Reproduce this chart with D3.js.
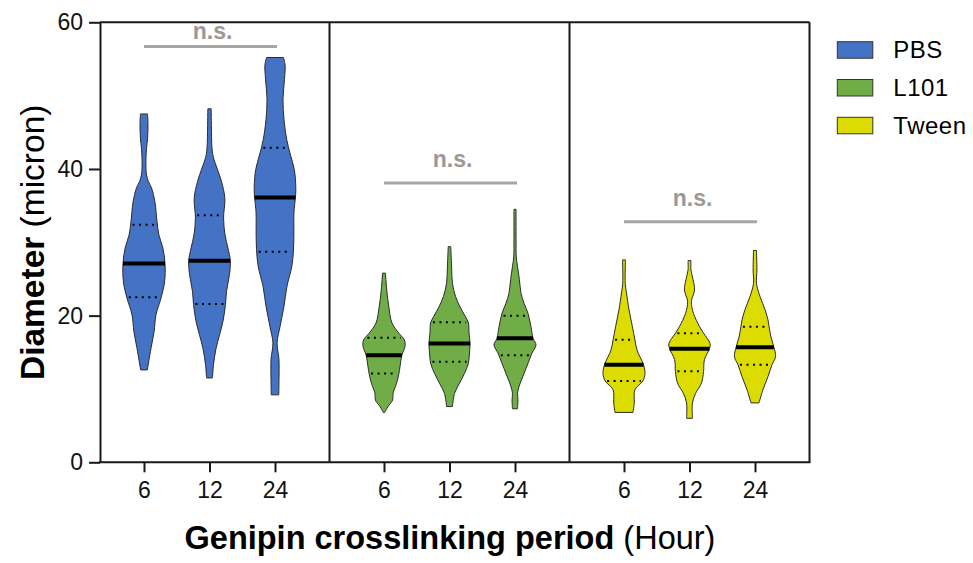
<!DOCTYPE html>
<html>
<head>
<meta charset="utf-8">
<script src="https://cdn.jsdelivr.net/npm/d3@7"></script>
<style>
  body { margin: 0; background: #fff; }
  svg { display: block; font-family: 'Liberation Sans', Arial, sans-serif; }
</style>
</head>
<body>
<svg id="chart" width="973" height="563"></svg>
<script>
// groups (panels) and time points on the x axis
const groups = ['PBS', 'L101', 'Tween'];
const times = ['6', '12', '24'];
const groupColors = ['#4472C4', '#70AD47', '#DCDC00'];
const yTicks = [0, 20, 40, 60];

// violin outlines: [diameter, relative density] from top to bottom
const pbsProfiles = [
  [[47.5,0.17],[46.0,0.19],[44.2,0.17],[42.8,0.12],[41.0,0.09],[39.2,0.12],[38.3,0.21],[37.4,0.36],[35.5,0.52],[32.8,0.62],[31.0,0.71],[29.2,0.9],[27.1,1.0],[24.6,0.98],[22.4,0.81],[20.1,0.57],[17.8,0.48],[15.5,0.33],[12.6,0.16]],
  [[48.2,0.08],[45.9,0.09],[42.8,0.12],[41.5,0.19],[40.1,0.36],[38.3,0.57],[36.0,0.73],[33.3,0.67],[31.0,0.74],[29.2,0.88],[27.5,0.99],[25.6,0.95],[23.3,0.81],[21.5,0.76],[19.2,0.64],[17.4,0.48],[15.5,0.31],[13.3,0.19],[11.5,0.14]],
  [[55.2,0.4],[54.2,0.48],[52.2,0.45],[49.5,0.38],[46.7,0.43],[44.0,0.56],[42.2,0.71],[39.9,0.92],[37.6,0.99],[36.4,0.98],[34.0,0.9],[31.7,0.9],[29.0,0.88],[26.7,0.8],[24.0,0.57],[21.3,0.43],[18.5,0.24],[16.3,0.1],[14.0,0.19],[11.3,0.19],[9.2,0.18]]
];
const l101Profiles = [
  [[25.8,0.07],[23.5,0.13],[21.2,0.23],[19.0,0.38],[17.6,0.71],[16.7,0.97],[15.8,1.0],[14.6,0.85],[13.0,0.76],[12.1,0.71],[10.8,0.6],[9.4,0.43],[8.5,0.41],[7.6,0.19],[6.8,0.03]],
  [[29.4,0.06],[26.7,0.1],[24.4,0.14],[22.6,0.29],[21.2,0.5],[19.9,0.75],[19.0,0.9],[17.6,0.93],[16.2,0.98],[14.9,0.95],[13.5,0.9],[12.1,0.71],[10.8,0.48],[9.4,0.24],[7.6,0.14]],
  [[34.5,0.05],[30.3,0.05],[28.0,0.06],[26.7,0.12],[24.9,0.21],[23.0,0.29],[21.7,0.43],[20.3,0.62],[18.5,0.76],[16.9,0.86],[16.0,1.0],[14.9,0.81],[13.5,0.62],[12.1,0.43],[10.3,0.19],[9.4,0.12],[8.5,0.14],[7.3,0.12]]
];
const tweenProfiles = [
  [[27.6,0.07],[24.4,0.06],[23.1,0.12],[20.8,0.24],[18.5,0.4],[16.7,0.52],[15.3,0.62],[13.3,0.93],[12.1,1.0],[11.1,0.9],[9.9,0.52],[8.1,0.49],[6.8,0.43]],
  [[27.5,0.07],[26.2,0.07],[24.9,0.17],[23.5,0.24],[21.9,0.09],[20.3,0.19],[18.5,0.48],[17.6,0.67],[16.2,0.98],[15.5,0.95],[14.0,0.71],[12.4,0.67],[10.8,0.57],[9.4,0.29],[8.1,0.14],[6.0,0.14]],
  [[28.9,0.07],[26.2,0.09],[24.4,0.07],[22.6,0.24],[20.8,0.48],[19.4,0.62],[18.5,0.67],[17.1,0.76],[15.7,0.9],[14.4,0.98],[13.3,0.81],[11.7,0.62],[9.9,0.38],[8.1,0.19]]
];

// median and quartiles per group, per time point
const medians = [[27.1, 27.5, 36.1], [14.6, 16.2, 16.9], [13.3, 15.5, 15.7]];
const upperQuartiles = [[32.4, 33.7, 42.9], [17.0, 19.1, 20.0], [16.7, 17.6, 18.5]];
const lowerQuartiles = [[22.5, 21.6, 28.7], [12.1, 13.7, 14.6], [11.1, 12.4, 13.3]];

// significance bar heights
const sigLevels = [56.7, 38.1, 32.8];
const sigLabels = ['n.s.', 'n.s.', 'n.s.'];

const profiles = [pbsProfiles, l101Profiles, tweenProfiles];

const svg = d3.select('#chart');
const plotTop = 22.3, plotBottom = 462.3, axisX = 100;

const y = d3.scaleLinear().domain([0, 60]).range([plotBottom, plotTop]);
const xGroup = d3.scaleBand().domain(groups).range([89.5, 809.5]);
const xTime = d3.scalePoint().domain(times).range([0, xGroup.bandwidth()]).padding(0.832);
const w = d3.scaleLinear().domain([0, 1]).range([0, 21]);

const cx = (g, t) => xGroup(g) + xTime(t);

// density at a value, straight interpolation along the outline
function densAt(prof, v) {
  for (let i = 0; i < prof.length - 1; i++) {
    const a = prof[i], b = prof[i + 1];
    if (v <= a[0] && v >= b[0]) {
      return a[1] + (b[1] - a[1]) * (a[0] - v) / (a[0] - b[0]);
    }
  }
  return 0;
}

// violins
groups.forEach((g, gi) => {
  times.forEach((t, ti) => {
    const prof = profiles[gi][ti];
    const c = cx(g, t);
    const area = d3.area()
      .y(d => y(d[0]))
      .x0(d => c - w(d[1]))
      .x1(d => c + w(d[1]))
      .curve(d3.curveCatmullRom.alpha(0.5));
    svg.append('path')
      .datum(prof)
      .attr('d', area)
      .attr('fill', groupColors[gi])
      .attr('stroke', '#2b2b2b')
      .attr('stroke-width', 1);

    [upperQuartiles[gi][ti], lowerQuartiles[gi][ti]].forEach(q => {
      const hw = w(densAt(prof, q)) - 2;
      svg.append('line')
        .attr('x1', c - hw).attr('x2', c + hw)
        .attr('y1', y(q)).attr('y2', y(q))
        .attr('stroke', '#000')
        .attr('stroke-width', 2)
        .attr('stroke-dasharray', '2 4.5');
    });

    const m = medians[gi][ti];
    const mw = w(densAt(prof, m));
    svg.append('line')
      .attr('x1', c - mw).attr('x2', c + mw)
      .attr('y1', y(m)).attr('y2', y(m))
      .attr('stroke', '#000')
      .attr('stroke-width', 4);
  });
});

// n.s. bars
groups.forEach((g, gi) => {
  const ly = y(sigLevels[gi]);
  svg.append('line')
    .attr('x1', cx(g, times[0])).attr('x2', cx(g, times[times.length - 1]) + 2)
    .attr('y1', ly).attr('y2', ly)
    .attr('stroke', '#a6a6a6')
    .attr('stroke-width', 3);
  svg.append('text')
    .attr('x', cx(g, times[1]) + 3)
    .attr('y', Math.max(ly - 16, plotTop + 17))
    .attr('text-anchor', 'middle')
    .attr('font-size', 23)
    .attr('font-weight', 'bold')
    .attr('fill', '#999')
    .text(sigLabels[gi]);
});

// frame: top, right, dividers, bottom
const frame = svg.append('g').attr('stroke', '#1a1a1a').attr('stroke-width', 2).attr('fill', 'none');
frame.append('line').attr('x1', axisX).attr('x2', 809.5).attr('y1', plotTop).attr('y2', plotTop);
frame.append('line').attr('x1', axisX - 1).attr('x2', 809.5 + 1).attr('y1', plotBottom).attr('y2', plotBottom);
groups.slice(1).concat(['end']).forEach(g => {
  const xx = g === 'end' ? 809.5 : xGroup(g);
  frame.append('line').attr('x1', xx).attr('x2', xx).attr('y1', plotTop).attr('y2', plotBottom);
});

// y axis
const yAxis = svg.append('g')
  .attr('transform', `translate(${axisX},0)`)
  .call(d3.axisLeft(y).tickValues(yTicks).tickSize(11).tickSizeOuter(0).tickPadding(6));
yAxis.selectAll('path, line').attr('stroke', '#1a1a1a').attr('stroke-width', 2);
yAxis.selectAll('text').attr('font-size', 23).attr('fill', '#111').attr('font-family', null);

// x axes, one per group
groups.forEach(g => {
  const ax = svg.append('g')
    .attr('transform', `translate(${xGroup(g)},${plotBottom})`)
    .call(d3.axisBottom(xTime).tickSize(10).tickPadding(9));
  ax.select('.domain').remove();
  ax.selectAll('line').attr('stroke', '#1a1a1a').attr('stroke-width', 2);
  ax.selectAll('text').attr('font-size', 23).attr('fill', '#111').attr('font-family', null);
});

// axis titles
const yTitle = svg.append('text')
  .attr('transform', `translate(44,${(plotTop + plotBottom) / 2}) rotate(-90)`)
  .attr('text-anchor', 'middle')
  .attr('font-size', 33.5)
  .attr('fill', '#000');
yTitle.append('tspan').attr('font-weight', 'bold').text('Diameter');
yTitle.append('tspan').text(' (micron)');

const xTitle = svg.append('text')
  .attr('x', 450)
  .attr('y', 549)
  .attr('text-anchor', 'middle')
  .attr('font-size', 32.5)
  .attr('fill', '#000');
xTitle.append('tspan').attr('font-weight', 'bold').text('Genipin crosslinking period');
xTitle.append('tspan').text(' (Hour)');

// legend
const legend = svg.append('g').attr('transform', 'translate(837.3,41.7)');
groups.forEach((g, i) => {
  const row = legend.append('g').attr('transform', `translate(0,${i * 37.8})`);
  row.append('rect')
    .attr('width', 35.5).attr('height', 16.5)
    .attr('fill', groupColors[i])
    .attr('stroke', '#333').attr('stroke-width', 1);
  row.append('text')
    .attr('x', 56).attr('y', 16.6)
    .attr('font-size', 24)
    .attr('letter-spacing', 0.5)
    .attr('fill', '#000')
    .text(g);
});
</script>
</body>
</html>
